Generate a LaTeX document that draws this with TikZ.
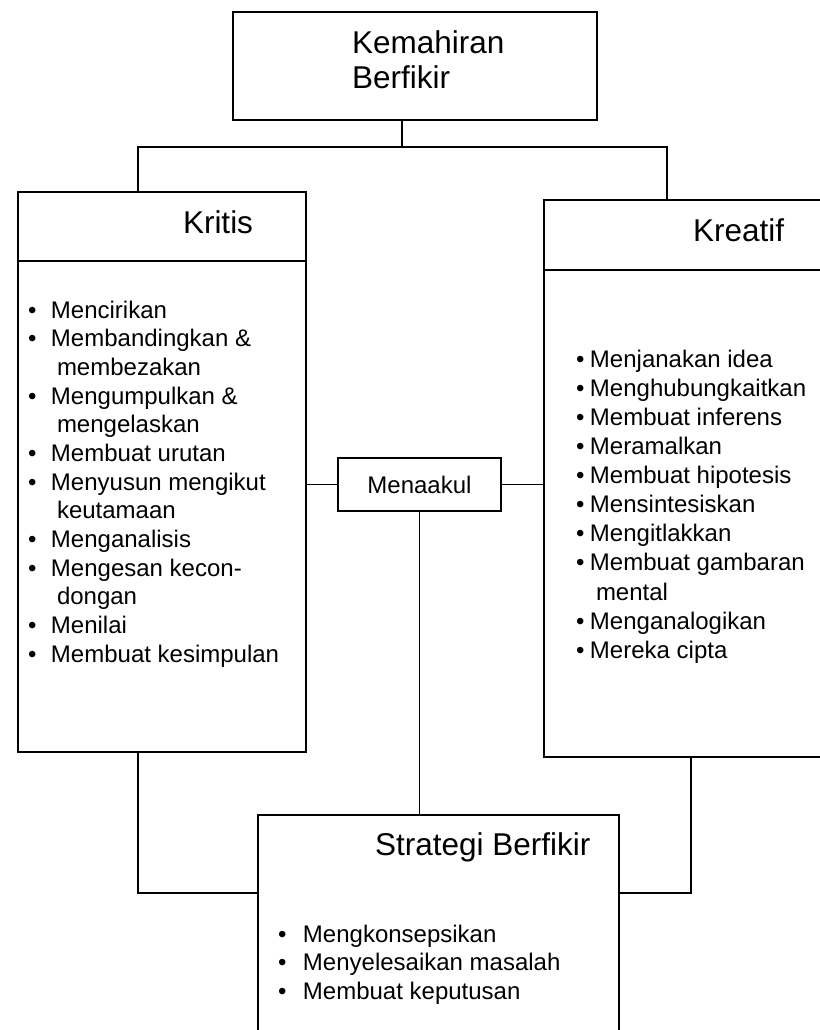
\documentclass[tikz,border=0pt]{standalone}
\usepackage{fontspec}
\setmainfont{Liberation Sans}

\newcommand{\bulitem}[2]{\makebox[#1][l]{\textbullet}#2}
\newcommand{\contitem}[2]{\hspace*{#1}#2}

\begin{document}
\begin{tikzpicture}[x=0.5pt, y=-0.5pt]
    \tikzstyle{every node} = [inner sep=0pt, outer sep=0pt]
    \tikzstyle{box} = [draw, line width=0.9pt, anchor=north west]
    \tikzstyle{head} = [font=\fontsize{15.75}{17.5}\selectfont, anchor=base west]
    \tikzstyle{items} = [align=left, anchor=north west]
    \tikzstyle{link} = [line width=0.9pt]
    \clip (0,0) rectangle (820,1030);

    % boxes
    \node [box, minimum width=182pt, minimum height=54pt] (kem) at (233,12) {};
    \node [box, minimum width=144pt, minimum height=280pt] (kri) at (18,192) {};
    \node [box, minimum width=139.5pt, minimum height=278.5pt] (kre) at (544,200) {};
    \node [box, minimum width=81.5pt, minimum height=26.5pt,
           font=\fontsize{12}{14}\selectfont] (men) at (338,458) {Menaakul};
    \node [box, minimum width=180.5pt, minimum height=112.5pt] (str) at (258,815) {};

    % header rules
    \draw [link] ([yshift=-34.5pt]kri.north west) -- ([yshift=-34.5pt]kri.north east);
    \draw [link] ([yshift=-35pt]kre.north west) -- ([yshift=-35pt]kre.north east);

    % titles
    \node [head, anchor=north west, align=left] (kemtxt) at (352,30.4) {Kemahiran\\Berfikir};
    \node [head] (kritxt) at (183,233) {Kritis};
    \node [head] (kretxt) at (693,241) {Kreatif};
    \node [head] (strtxt) at (375,855) {Strategi Berfikir};

    % lists
    \node [items, font=\fontsize{12}{14.33}\selectfont] (krilist) at (28,300.8) {
        \bulitem{11.5pt}{Mencirikan}\\
        \bulitem{11.5pt}{Membandingkan \&}\\
        \contitem{14.5pt}{membezakan}\\
        \bulitem{11.5pt}{Mengumpulkan \&}\\
        \contitem{14.5pt}{mengelaskan}\\
        \bulitem{11.5pt}{Membuat urutan}\\
        \bulitem{11.5pt}{Menyusun mengikut}\\
        \contitem{14.5pt}{keutamaan}\\
        \bulitem{11.5pt}{Menganalisis}\\
        \bulitem{11.5pt}{Mengesan kecon-}\\
        \contitem{14.5pt}{dongan}\\
        \bulitem{11.5pt}{Menilai}\\
        \bulitem{11.5pt}{Membuat kesimpulan}};
    \node [items, font=\fontsize{12}{14.55}\selectfont] (krelist) at (576,349.8) {
        \bulitem{7pt}{Menjanakan idea}\\
        \bulitem{7pt}{Menghubungkaitkan}\\
        \bulitem{7pt}{Membuat inferens}\\
        \bulitem{7pt}{Meramalkan}\\
        \bulitem{7pt}{Membuat hipotesis}\\
        \bulitem{7pt}{Mensintesiskan}\\
        \bulitem{7pt}{Mengitlakkan}\\
        \bulitem{7pt}{Membuat gambaran}\\
        \contitem{10pt}{mental}\\
        \bulitem{7pt}{Menganalogikan}\\
        \bulitem{7pt}{Mereka cipta}};
    \node [items, font=\fontsize{12}{14.25}\selectfont] (strlist) at (278,924.8) {
        \bulitem{12.5pt}{Mengkonsepsikan}\\
        \bulitem{12.5pt}{Menyelesaikan masalah}\\
        \bulitem{12.5pt}{Membuat keputusan}};

    % connectors
    \coordinate (stem) at (402,147);
    \coordinate (jl) at (138,147);
    \coordinate (jr) at (667,147);
    \coordinate (bl) at (138,893);
    \coordinate (br) at (691,893);
    \draw [link] (kem.south -| stem) -- (stem);
    \draw [link] (kri.north -| jl) -- (jl) -- (jr) -- (kre.north -| jr);
    \draw [link] (kri.east |- men.west) -- (men.west);
    \draw [link] (men.east) -- (men.east -| kre.west);
    \draw [link] (men.south) -- (men.south |- str.north);
    \draw [link] (kri.south -| bl) -- (bl) -- (bl -| str.west);
    \draw [link] (kre.south -| br) -- (br) -- (br -| str.east);
\end{tikzpicture}
\end{document}
